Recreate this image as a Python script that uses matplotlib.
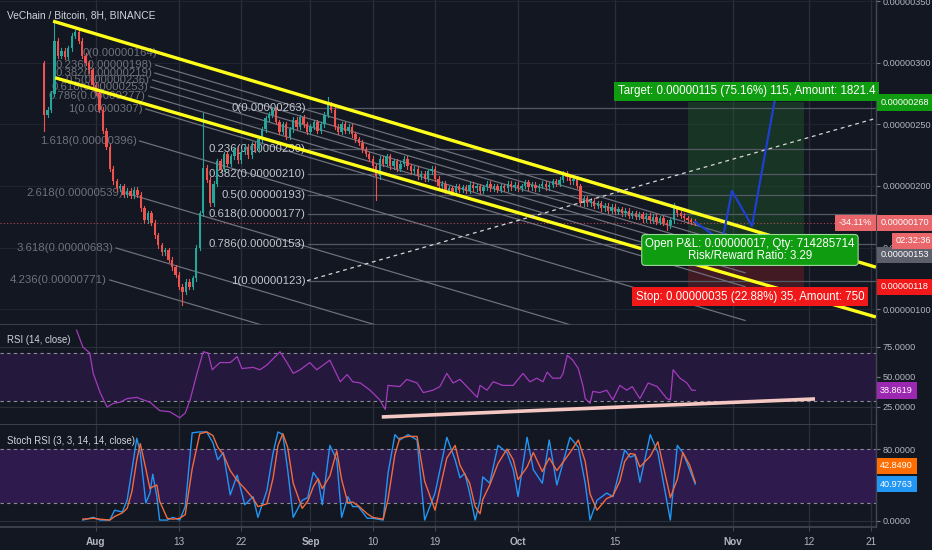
import numpy as np
import pandas as pd
import matplotlib
matplotlib.use('Agg')
import matplotlib.pyplot as plt

plt.rcParams['font.family'] = ['Liberation Sans', 'DejaVu Sans']

# ---------------- data ----------------
origin = pd.Timestamp('2018-08-01')
start = pd.Timestamp('2018-07-24 12:00')
first_open = 300
closes = [258, 262, 275, 318, 306, 310, 305, 312, 322, 325,
          318, 306, 300, 294, 282, 276, 262, 245, 232, 214,
          204, 198, 200, 193, 196, 192, 197, 193, 182, 172,
          178, 170, 160, 152, 146, 148, 140, 134, 128, 118,
          114, 122, 118, 125, 150, 178, 215, 205, 186, 202,
          220, 214, 226, 218, 224, 230, 221, 228, 232, 225,
          234, 230, 238, 246, 255, 258, 262, 252, 244, 250,
          240, 246, 254, 248, 256, 250, 244, 248, 252, 245,
          250, 258, 266, 262, 248, 244, 250, 245, 248, 242,
          238, 235, 230, 226, 222, 216, 208, 222, 218, 224,
          216, 220, 214, 218, 222, 216, 212, 214, 208, 210,
          206, 212, 214, 206, 200, 202, 196, 198, 195, 200,
          197, 199, 196, 201, 198, 200, 196, 199, 202, 198,
          200, 197, 200, 198, 202, 199, 201, 198, 200, 203,
          199, 201, 198, 200, 202, 199, 201, 204, 202, 205,
          210, 207, 204, 206, 200, 186, 190, 186, 188, 184,
          186, 182, 184, 180, 183, 179, 181, 178, 180, 176,
          178, 175, 177, 173, 176, 172, 175, 171, 174, 170,
          168, 172, 182, 178, 176, 174, 172, 171, 170]
high_spikes = {3: 334, 46: 259, 82: 272, 182: 186}
low_spikes = {0: 245, 40: 103, 96: 189, 180: 164}

tick_dates = ['2018-08-01', '2018-08-13', '2018-08-22', '2018-09-01', '2018-09-10',
              '2018-09-19', '2018-10-01', '2018-10-15', '2018-11-01', '2018-11-12',
              '2018-11-21']
tick_labels = ['Aug', '13', '22', 'Sep', '10', '19', 'Oct', '15', 'Nov', '12', '21']

# fib channel (first) : level, price text, anchor (day, price)
fib1_levels = ['0', '0.236', '0.382', '0.5', '0.618', '0.786', '1', '1.618', '2.618', '3.618', '4.236']
fib1_prices = ['0.00000164', '0.00000198', '0.00000219', '0.00000236', '0.00000253', '0.00000277',
               '0.00000307', '0.00000396', '0.00000539', '0.00000683', '0.00000771']
fib1_day = [8.8, 8.2, 8.1, 7.8, 7.5, 7.2, 6.8, 5.9, 3.9, 2.5, 1.6]
fib1_val = [308.1, 298.4, 291.9, 286.2, 280.5, 273.2, 262.6, 236.6, 194.3, 149.6, 123.6]
fib1_slope = -1.66
fib1_end = 93.8

# fib retracement (second)
fib2_levels = ['0', '0.236', '0.382', '0.5', '0.618', '0.786', '1']
fib2_vals = [263, 230, 210, 193, 177, 153, 123]
fib2_day = 30.3

# channel (yellow) lines
upper_days, upper_vals = [-6.2, 112.7], [334, 134]
lower_days, lower_vals = [-5.9, 112.7], [288, 93.5]
# dashed trend line
dash_days, dash_vals = [30.5, 112.7], [123, 255]

# long position
pos_start, pos_end = 85.5, 102.3
entry, target, stop = 153, 268, 118
current = 170
proj_days = [86.6, 90.5, 91.9, 94.8, 98.1]
proj_vals = [170.7, 155, 196, 167.5, 270]

# RSI
rsi_days = [-2.8, -1.9, -0.9, -0.4, 0.1, 0.6, 1.6, 2.5, 3.5, 4.5, 5.9, 6.8, 7.8, 9.2, 10.7, 12.1,
            12.9, 13.6, 14.6, 15.5, 16.2, 16.8, 17.9, 19.4, 20.4, 21.1, 22.7, 23.7, 24.7, 26.6,
            27.6, 28.5, 29.5, 30.9, 31.9, 33.8, 34.3, 35.3, 36.3, 37.1, 38.2, 39.6, 41.0, 41.8,
            42.2, 43.9, 44.9, 46.4, 47.3, 48.7, 49.7, 50.7, 51.6, 52.6, 53.6, 55.1, 55.5, 56.5,
            57.4, 58.8, 60.3, 61.7, 62.7, 63.7, 64.6, 65.2, 66.0, 67.1, 67.5, 68.1, 68.9, 69.7,
            70.4, 70.7, 71.4, 71.8, 72.8, 73.8, 74.7, 75.7, 76.7, 77.5, 78.6, 79.8, 81.1, 82.5,
            83.0, 83.4, 84.4, 85.4, 86.1, 86.6]
rsi_vals = [89, 75, 70, 53, 45, 37, 25, 28, 29, 32, 33, 31, 29, 22, 21, 16,
            20, 31, 53, 71, 70, 56, 62, 62, 67, 57, 58, 56, 60, 71,
            62, 53, 56, 62, 56, 64, 58, 46, 52, 46, 45, 39, 31, 23,
            43, 42, 48, 45, 37, 39, 42, 53, 45, 48, 42, 33, 43, 39,
            46, 43, 43, 53, 46, 49, 46, 54, 49, 49, 53, 68, 64, 57,
            42, 32, 28, 38, 37, 39, 31, 43, 39, 42, 32, 45, 42, 32,
            31, 56, 49, 45, 39, 38.8619]
rsi_trend_days, rsi_trend_vals = [41.3, 103.9], [16.7, 31.7]

# Stoch RSI
st_days = [-1.9, -0.4, 0.6, 2.0, 2.7, 3.8, 4.5, 5.2, 5.9, 6.4, 7.2, 7.8, 8.2, 8.8, 9.2, 10.3,
           11.1, 12.1, 12.9, 13.9, 15.0, 16.0, 16.9, 17.6, 18.4, 19.4, 20.4, 21.5, 22.7, 23.4,
           24.7, 25.6, 26.3, 27.0, 27.7, 28.5, 29.8, 30.6, 31.4, 32.1, 32.7, 33.8, 34.8, 35.5,
           36.4, 37.1, 37.9, 39.2, 40.0, 41.5, 42.2, 43.2, 43.9, 45.1, 46.4, 47.5, 49.0, 50.7,
           51.9, 52.6, 53.3, 54.0, 54.8, 55.5, 55.9, 56.9, 58.1, 59.4, 60.3, 61.0, 62.3, 63.2,
           64.5, 65.5, 66.6, 68.5, 69.7, 70.7, 71.4, 72.4, 73.8, 74.7, 75.7, 76.4, 77.2, 77.9,
           78.6, 80.1, 81.2, 83.0, 84.0, 84.8, 85.8, 86.6]
st_k = [1, 4, 1, 1, 12, 10, 23, 57, 92, 76, 20, 31, 52, 27, 1, 1,
        4, 1, 16, 98, 99, 99, 87, 68, 76, 29, 51, 18, 27, 4,
        34, 76, 99, 96, 57, 4, 23, 26, 54, 46, 18, 84, 68, 4,
        27, 16, 16, 3, 3, 1, 53, 96, 90, 96, 90, 1, 31, 93,
        68, 48, 53, 31, 1, 23, 49, 42, 84, 76, 57, 27, 93, 57,
        42, 90, 40, 93, 82, 42, 1, 23, 31, 27, 57, 79, 71, 73,
        43, 96, 76, 1, 84, 76, 57, 40.9763]
st_d = [2, 3, 2, 1, 5, 9, 14, 33, 68, 86, 58, 36, 38, 40, 22, 3,
        2, 3, 7, 58, 97, 99, 95, 82, 74, 56, 45, 36, 25, 16,
        19, 48, 84, 97, 82, 42, 14, 22, 38, 47, 36, 50, 78, 46,
        20, 21, 17, 8, 4, 2, 24, 74, 92, 94, 94, 44, 12, 70,
        84, 62, 52, 42, 16, 8, 24, 40, 64, 80, 68, 46, 60, 76,
        55, 70, 56, 76, 90, 66, 30, 12, 25, 28, 44, 66, 75, 74,
        60, 72, 88, 26, 46, 76, 62, 42.849]

# ---------------- styling ----------------
BG = '#131722'
GRID = '#2b2f3a'
TXT = '#b2b5be'
UP, DOWN = '#26a69a', '#ef5350'
SEP = '#434651'
AXFS = 6.6

dates = pd.date_range(start, periods=len(closes), freq='12h')
days = ((dates - origin) / pd.Timedelta(days=1)).to_numpy()
opens = [first_open] + closes[:-1]
tick_days = ((pd.to_datetime(tick_dates) - origin) / pd.Timedelta(days=1)).to_numpy()

W, H = 932, 550
fig = plt.figure(figsize=(W / 100, H / 100), dpi=100, facecolor=BG)
xl = (-13.87, 112.72)
axw = 876 / W
ax1 = fig.add_axes([0, (H - 325) / H, axw, 325 / H], facecolor=BG)
ax2 = fig.add_axes([0, (H - 425) / H, axw, 100 / H], facecolor=BG)
ax3 = fig.add_axes([0, (H - 527) / H, axw, 102 / H], facecolor=BG)

for ax in (ax1, ax2, ax3):
    ax.set_xlim(*xl)
    for s in ('top', 'left'):
        ax.spines[s].set_visible(False)
    ax.spines['right'].set_color(SEP)
    ax.spines['bottom'].set_color(SEP)
    ax.spines['right'].set_linewidth(1)
    ax.spines['bottom'].set_linewidth(1.2)
    ax.yaxis.tick_right()
    ax.tick_params(axis='y', length=3, color='#787b86', labelcolor=TXT, labelsize=AXFS, pad=1.5)
    ax.set_xticks(tick_days)
    for d in tick_days:
        ax.axvline(d, color=GRID, lw=0.9, zorder=0)

ax1.tick_params(axis='x', length=0, labelbottom=False)
ax2.tick_params(axis='x', length=0, labelbottom=False)
ax3.set_xticklabels(tick_labels)
ax3.tick_params(axis='x', length=3, color=SEP, labelsize=7.2, labelcolor=TXT, pad=4)
for lbl in ax3.get_xticklabels():
    if lbl.get_text() in ('Aug', 'Sep', 'Oct', 'Nov'):
        lbl.set_fontweight('bold')

# ---------------- main panel ----------------
ax1.set_ylim(87.0, 351.2)
price_ticks = [100, 150, 200, 250, 300, 350]
ax1.set_yticks(price_ticks)
ax1.set_yticklabels([f"{v / 1e8:.8f}" for v in price_ticks])
for v in price_ticks:
    ax1.axhline(v, color='#20242e', lw=0.8, zorder=0)

# position zones
ax1.fill_between([pos_start, pos_end], entry, target, color='#1f6b2a', alpha=0.35, lw=0, zorder=1)
ax1.fill_between([pos_start, pos_end], stop, entry, color='#7a1e26', alpha=0.45, lw=0, zorder=1)

# fib retracement (horizontal)
for lvl, v in zip(fib2_levels, fib2_vals):
    ax1.plot([fib2_day + 0.3, xl[1]], [v, v], color='#555965', lw=0.9, zorder=1)
    ax1.text(fib2_day, v, f"{lvl}({v / 1e8:.8f})", ha='right', va='center',
             color='#c3c6ce', fontsize=8.2, zorder=2)

# fib channel lines
for lvl, ptxt, d0, v0 in zip(fib1_levels, fib1_prices, fib1_day, fib1_val):
    ax1.plot([d0 + 0.4, fib1_end], [v0, v0 + fib1_slope * (fib1_end - d0)],
             color='#6d707b', lw=0.9, zorder=1)
    ax1.text(d0, v0, f"{lvl}({ptxt})", ha='right', va='center', color='#6f727d',
             fontsize=8.2, zorder=2)

ax1.axhline(current, color='#e0535c', lw=0.8, ls=(0, (1, 2)), alpha=0.8, zorder=1)

# candles
for i, (d, o, c) in enumerate(zip(days, opens, closes)):
    col = UP if c >= o else DOWN
    hi = high_spikes.get(i, max(o, c) + 2.0)
    lo = low_spikes.get(i, min(o, c) - 2.0)
    ax1.plot([d, d], [lo, hi], color=col, lw=0.8, zorder=3)
    body = max(abs(c - o), 0.8)
    ax1.bar(d, body, bottom=min(o, c), width=0.34, color=col, lw=0, zorder=3)

# yellow channel
ax1.plot(upper_days, upper_vals, color='#ffff1a', lw=2.4, zorder=4, solid_capstyle='butt')
ax1.plot(lower_days, lower_vals, color='#ffff1a', lw=2.4, zorder=4, solid_capstyle='butt')
ax1.plot(dash_days, dash_vals, color='#d8d8d8', lw=0.9, ls=(0, (3, 3)), zorder=4)

# projection
ax1.plot(proj_days, proj_vals, color='#1f3fd0', lw=1.6, zorder=5)

mid = (pos_start + pos_end) / 2 + 0.6
POSFS = 8.3
ax1.text(mid - 0.5, target + 9, f"Target: {(target - entry) / 1e8:.8f} ({(target - entry) / entry * 100:.2f}%) {target - entry}, Amount: 1821.4",
         ha='center', va='center', color='white', fontsize=POSFS, zorder=6,
         bbox=dict(boxstyle='square,pad=0.3', fc='#109c10', ec='none'))
ax1.text(mid, entry - 5, f"Open P&L: {(current - entry) / 1e8:.8f}, Qty: 714285714\nRisk/Reward Ratio: {(target - entry) / (entry - stop):.2f}",
         ha='center', va='center', color='white', fontsize=POSFS, zorder=6, linespacing=1.0,
         bbox=dict(boxstyle='round,pad=0.3,rounding_size=0.3', fc='#109c10', ec='#9ad89a', lw=0.8))
ax1.text(mid, stop - 8, f"Stop: {(entry - stop) / 1e8:.8f} ({(entry - stop) / entry * 100:.2f}%) {entry - stop}, Amount: 750",
         ha='center', va='center', color='white', fontsize=POSFS, zorder=6,
         bbox=dict(boxstyle='square,pad=0.3', fc='#f01818', ec='none'))


def badge(ax, y, text, color, dx=3, dy=0, side='right', tc='white', fs=AXFS):
    ax.annotate(text, xy=(1, y), xycoords=('axes fraction', 'data'),
                xytext=(dx if side == 'right' else -3, dy),
                textcoords='offset points', ha='left' if side == 'right' else 'right',
                va='center', color=tc, fontsize=fs, annotation_clip=False, zorder=10,
                bbox=dict(boxstyle='square,pad=0.4', fc=color, ec='none'))


badge(ax1, target, f"{target / 1e8:.8f}", '#109c10')
badge(ax1, current, f"{current / 1e8:.8f}", '#e9676b')
badge(ax1, current, f"{(current - 258) / 258 * 100:.2f}%", '#e9676b', side='left')
badge(ax1, entry, f"{entry / 1e8:.8f}", '#5d606b', dy=-8)
badge(ax1, current, "02:32:36", '#e9676b', dx=14, dy=-13)
badge(ax1, stop, f"{stop / 1e8:.8f}", '#f01818')

fig.text(7 / W, 1 - 15 / H, "VeChain / Bitcoin, 8H, BINANCE", color='#d1d4dc', fontsize=7.4,
         va='center', ha='left')

# ---------------- RSI ----------------
ax2.set_ylim(10, 93.3)
ax2.set_yticks([25, 50, 75])
ax2.set_yticklabels([f"{v:.4f}" for v in (25, 50, 75)])
for v in (25, 50, 75):
    ax2.axhline(v, color=GRID, lw=0.8, zorder=0)
ax2.axhspan(30, 70, color='#24193c', lw=0, zorder=0.5)
for v in (30, 70):
    ax2.axhline(v, color='#8a8d97', lw=0.8, ls=(0, (3, 3)), zorder=1)
ax2.plot(rsi_days, rsi_vals, color='#a33bbd', lw=0.9, zorder=3)
ax2.plot(rsi_trend_days, rsi_trend_vals, color='#f4c7c3', lw=2.6, zorder=4, solid_capstyle='butt')
badge(ax2, rsi_vals[-1], f"{rsi_vals[-1]:.4f}", '#9c27b0')
fig.text(7 / W, 1 - 340 / H, "RSI (14, close)", color='#d1d4dc', fontsize=6.9, va='center', ha='left')

# ---------------- Stoch RSI ----------------
ax3.set_ylim(-6.7, 106.7)
ax3.set_yticks([0, 40, 80])
ax3.set_yticklabels([f"{v:.4f}" for v in (0, 40, 80)])
for v in (0, 40):
    ax3.axhline(v, color=GRID, lw=0.8, zorder=0)
ax3.axhspan(20, 80, color='#2e1a4c', lw=0, zorder=0.5)
for v in (20, 80):
    ax3.axhline(v, color='#8a8d97', lw=0.8, ls=(0, (3, 3)), zorder=1)
ax3.plot(st_days, st_k, color='#2196f3', lw=1.0, zorder=3)
ax3.plot(st_days, st_d, color='#f26b3a', lw=1.0, zorder=3)
badge(ax3, st_d[-1], f"{st_d[-1]:.4f}", '#ff6d00', dy=12)
badge(ax3, st_k[-1], f"{st_k[-1]:.4f}", '#2196f3')
fig.text(7 / W, 1 - 441 / H, "Stoch RSI (3, 3, 14, 14, close)", color='#d1d4dc', fontsize=6.9,
         va='center', ha='left')

fig.savefig('out.png', dpi=100, facecolor=BG)
